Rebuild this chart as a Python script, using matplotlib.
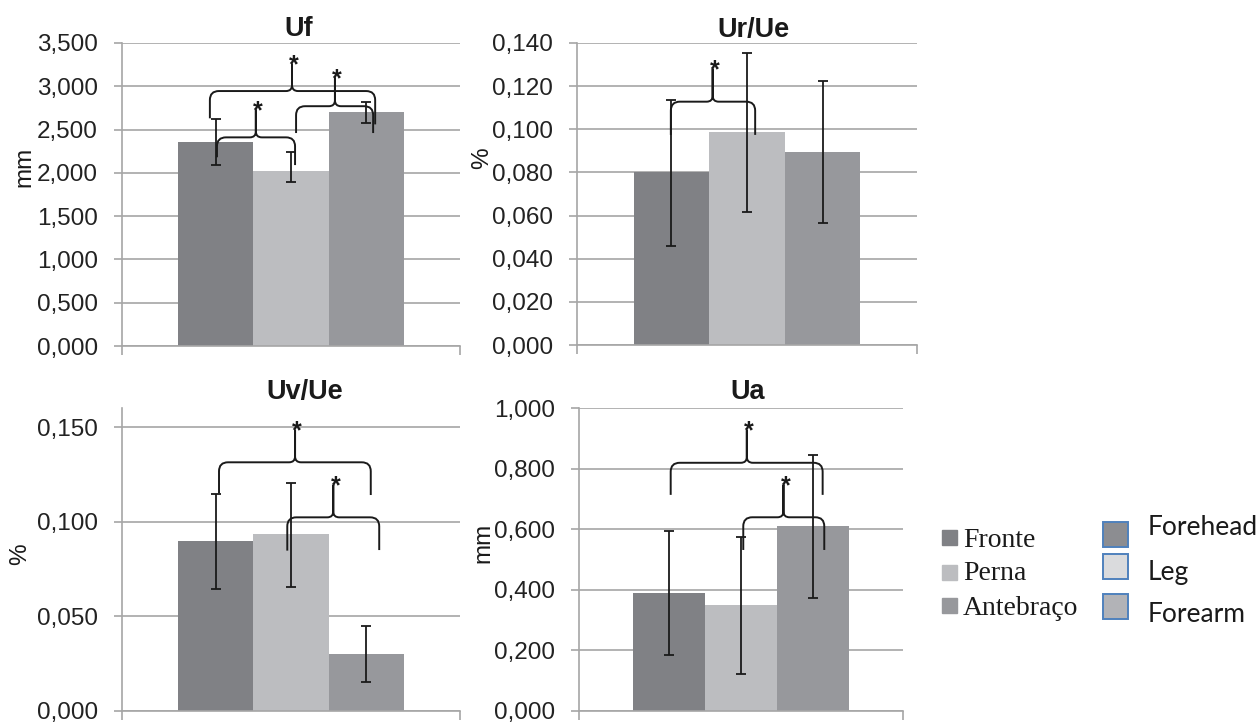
import numpy as np
import matplotlib
matplotlib.use('Agg')
import matplotlib.pyplot as plt
from matplotlib.patches import Rectangle
from matplotlib.path import Path
from matplotlib.patches import PathPatch

plt.rcParams['font.family'] = ['Liberation Sans', 'DejaVu Sans']

# data (values in the unit of each panel)
sites = ['Fronte', 'Perna', 'Antebraço']
sites_en = ['Forehead', 'Leg', 'Forearm']

uf_mean = [2.356, 2.020, 2.700]
uf_top = [2.622, 2.244, 2.822]
uf_bot = [2.091, 1.898, 2.572]

urue_mean = [0.0800, 0.0986, 0.0895]
urue_top = [0.1136, 0.1355, 0.1222]
urue_bot = [0.0457, 0.0617, 0.0567]

uvue_mean = [0.0899, 0.0936, 0.0301]
uvue_top = [0.1147, 0.1207, 0.0448]
uvue_bot = [0.0643, 0.0657, 0.0153]

ua_mean = [0.389, 0.349, 0.611]
ua_top = [0.596, 0.576, 0.846]
ua_bot = [0.186, 0.121, 0.374]

# significance braces: (x start, x end, x tip, line level, left end, right end, tip)
uf_braces = [(-0.240, 0.249, 0.003, 2.945, 2.63, 2.56, 3.26),
             (-0.219, 0.012, -0.104, 2.41, 2.18, 2.09, 2.73),
             (0.015, 0.243, 0.130, 2.77, 2.46, 2.46, 3.10)]
urue_braces = [(-0.224, 0.024, -0.101, 0.1128, 0.0974, 0.0974, 0.128)]
uvue_braces = [(-0.213, 0.236, 0.012, 0.1315, 0.1151, 0.1142, 0.1486),
               (-0.011, 0.261, 0.125, 0.1024, 0.0848, 0.0851, 0.1195)]
ua_braces = [(-0.217, 0.252, 0.018, 0.820, 0.714, 0.714, 0.928),
             (0.007, 0.257, 0.131, 0.640, 0.532, 0.532, 0.747)]

bar_colors = ['#808185', '#bcbdc0', '#97989c']
leg2_colors = ['#8c8d91', '#dadbdd', '#b2b3b7']
grid_c = '#a6a6a6'
ink = '#1a1a1a'

W, H = 1260, 723
fig = plt.figure(figsize=(W / 100, H / 100), dpi=100)


def px_axes(l, t, r, b):
    return fig.add_axes([l / W, 1 - b / H, (r - l) / W, (b - t) / H])


def fx(x):
    return x / W


def fy(y):
    return 1 - y / H


def brace(ax, br, rend=9, rtip=6):
    x0, x1, xt, y, yl, yr, yt = br
    pos = ax.get_position()
    xl, xh = ax.get_xlim()
    yl0, yh0 = ax.get_ylim()
    kx = (xh - xl) / (pos.width * W)
    ky = (yh0 - yl0) / (pos.height * H)
    ex, ey = rend * kx, rend * ky
    tx, ty = rtip * kx, rtip * ky
    verts = [(x0, yl), (x0, y - ey), (x0, y), (x0 + ex, y),
             (xt - tx, y), (xt, y), (xt, y + ty), (xt, yt),
             (xt, yt), (xt, y + ty), (xt, y), (xt + tx, y),
             (x1 - ex, y), (x1, y), (x1, y - ey), (x1, yr)]
    codes = [Path.MOVETO, Path.LINETO, Path.CURVE3, Path.CURVE3,
             Path.LINETO, Path.CURVE3, Path.CURVE3, Path.LINETO,
             Path.MOVETO, Path.LINETO, Path.CURVE3, Path.CURVE3,
             Path.LINETO, Path.CURVE3, Path.CURVE3, Path.LINETO]
    ax.add_patch(PathPatch(Path(verts, codes), fill=False, ec=ink, lw=1.4,
                           capstyle='butt', zorder=5))
    ax.annotate('*', xy=(xt, yt), xytext=(1.5, -6), textcoords='offset points',
                ha='center', va='baseline', fontsize=18, fontweight='bold',
                color=ink, zorder=6)


def panel(box, title, tpos, mean, top, bot, ymax, step, braces, ylab, lpos):
    ax = px_axes(*box)
    x = np.array([-1, 0, 1]) / 4.5
    mean = np.array(mean)
    yerr = [mean - np.array(bot), np.array(top) - mean]
    ax.bar(x, mean, width=1 / 4.5, color=bar_colors, linewidth=0,
           yerr=yerr, error_kw=dict(ecolor=ink, elinewidth=1.3, capsize=3.8,
                                    capthick=1.3, zorder=4))
    ax.set_xlim(-0.5, 0.5)
    ax.set_ylim(0, ymax)
    ticks = np.arange(0, ymax + 1e-9, step)
    ax.set_yticks(ticks)
    ax.set_yticklabels([('%.3f' % t).replace('.', ',') for t in ticks])
    ax.set_xticks([-0.5, 0.5])
    ax.set_xticklabels([])
    ax.yaxis.grid(True, color=grid_c, lw=1.2)
    ax.set_axisbelow(True)
    for s in ['top', 'right']:
        ax.spines[s].set_visible(False)
    for s in ['left', 'bottom']:
        ax.spines[s].set_color(grid_c)
        ax.spines[s].set_linewidth(1.2)
    ax.tick_params(axis='y', length=5.8, width=1.2, color=grid_c, pad=11.5,
                   labelsize=17.5, labelcolor='#222222')
    ax.tick_params(axis='x', length=6.5, width=1.2, color=grid_c)
    for br in braces:
        brace(ax, br)
    fig.text(fx(tpos[0]), fy(tpos[1]), title, ha='center', va='baseline',
             fontsize=19.5, fontweight='bold', color=ink)
    fig.text(fx(lpos[0]), fy(lpos[1]), ylab, ha='center', va='center',
             rotation=90, fontsize=17.5, color=ink)
    return ax


panel((122, 43, 460, 346), 'Uf', (299, 36), uf_mean, uf_top, uf_bot,
      3.5, 0.5, uf_braces, 'mm', (24, 167))
panel((577, 43, 917, 345), 'Ur/Ue', (753, 37), urue_mean, urue_top, urue_bot,
      0.14, 0.02, urue_braces, '%', (482, 158))
panel((122, 408.4, 460, 711), 'Uv/Ue', (305, 399), uvue_mean, uvue_top, uvue_bot,
      0.16, 0.05, uvue_braces, '%', (20, 554))
panel((579, 408.3, 903, 711), 'Ua', (748, 399), ua_mean, ua_top, ua_bot,
      1.0, 0.2, ua_braces, 'mm', (483, 543))

# legend (Portuguese)
for lab, c, t, b in zip(sites, bar_colors, [530, 565, 598], [547, 580, 615]):
    fig.add_artist(Rectangle((fx(942), fy(t + 15)), 15 / W, 15 / H, color=c,
                             transform=fig.transFigure))
    fig.text(fx(963), fy(b), lab, ha='left', va='baseline', fontsize=20,
             family='Liberation Serif', color=ink)

# legend (English)
for lab, c, t, b in zip(sites_en, leg2_colors, [522, 554, 594], [535, 580, 622]):
    fig.add_artist(Rectangle((fx(1103), fy(t + 25)), 25 / W, 25 / H, fc=c,
                             ec='#4f81bd', lw=1.4, transform=fig.transFigure))
    fig.text(fx(1148), fy(b), lab, ha='left', va='baseline', fontsize=19,
             family='Lato', color=ink)

fig.savefig('out.png', dpi=100)
